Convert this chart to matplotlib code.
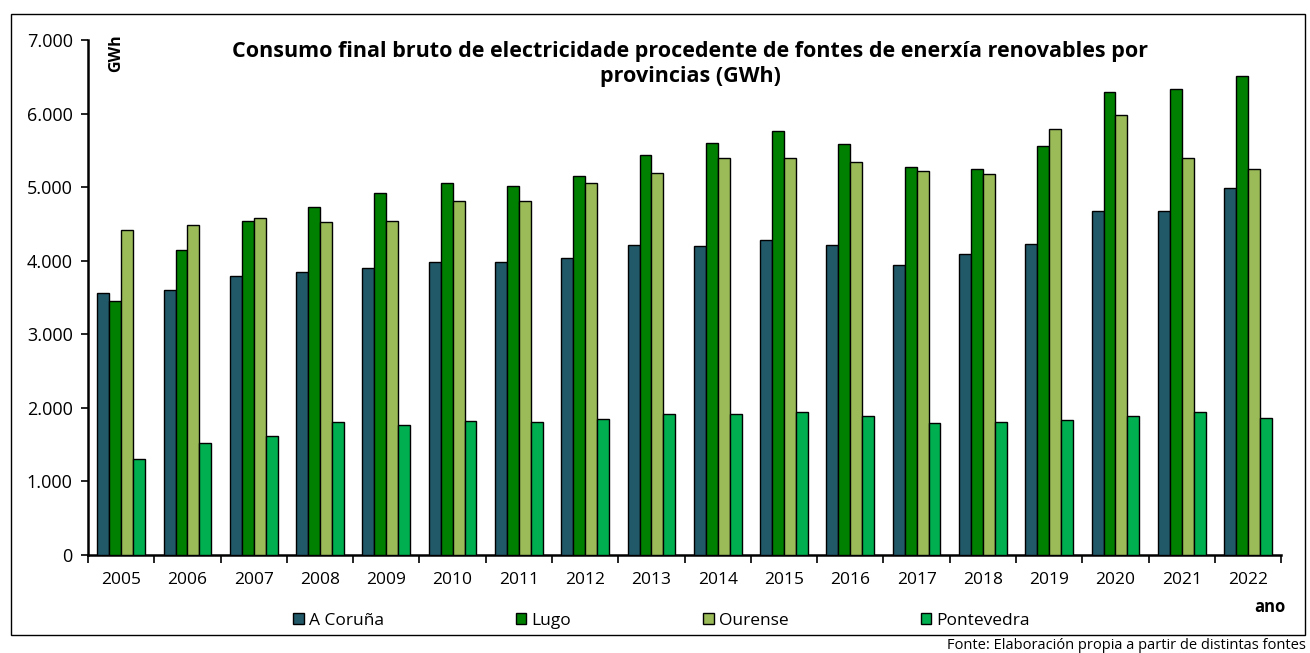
import matplotlib.pyplot as plt
import numpy as np
from matplotlib.patches import Rectangle

plt.rcParams['font.family'] = ['Open Sans', 'DejaVu Sans']

years = [str(y) for y in range(2005, 2023)]
provinces = ["A Coruña", "Lugo", "Ourense", "Pontevedra"]
coruna = [3560, 3600, 3790, 3850, 3900, 3980, 3980, 4040, 4210, 4200, 4280, 4210, 3940, 4090, 4230, 4680, 4680, 4990]
lugo = [3450, 4150, 4540, 4730, 4920, 5060, 5020, 5150, 5440, 5600, 5760, 5590, 5270, 5250, 5560, 6290, 6330, 6510]
ourense = [4420, 4480, 4580, 4530, 4540, 4810, 4810, 5060, 5190, 5400, 5400, 5340, 5220, 5180, 5790, 5980, 5400, 5250]
pontevedra = [1300, 1520, 1620, 1810, 1770, 1820, 1810, 1850, 1920, 1920, 1940, 1890, 1790, 1810, 1830, 1890, 1940, 1860]
colors = ["#215968", "#008000", "#9BBB59", "#00B050"]

fig = plt.figure(figsize=(13.1, 6.53), dpi=100)
ax = fig.add_axes([0.0672, 0.150, 0.9108, 0.7887])

x = np.arange(len(years))
width = 0.18
series = [coruna, lugo, ourense, pontevedra]
for k, vals in enumerate(series):
    ax.bar(x + (k - 1.5) * width, vals, width, color=colors[k], edgecolor='black',
           linewidth=1.0, label=provinces[k], zorder=3)

ax.set_xlim(-0.5, len(years) - 0.5)
ax.set_ylim(0, 7000)
ax.set_yticks(range(0, 7001, 1000))
ax.set_yticklabels(["0" if v == 0 else f"{v:,}".replace(",", ".") for v in range(0, 7001, 1000)], fontsize=13)
ax.set_xticks(x)
ax.set_xticklabels(years, fontsize=12.5)
ax.set_xticks(np.arange(-0.5, len(years)), minor=True)
ax.tick_params(axis='x', which='major', length=0, pad=12)
ax.tick_params(axis='x', which='minor', length=6, width=1.2, direction='out')
ax.tick_params(axis='y', length=5, width=1.2, direction='out', pad=6)
for s in ['top', 'right']:
    ax.spines[s].set_visible(False)
for s in ['left', 'bottom']:
    ax.spines[s].set_linewidth(1.8)

fig.text(0.527, 0.937, "Consumo final bruto de electricidade procedente de fontes de enerxía renovables por\nprovincias (GWh)",
         ha='center', va='top', fontsize=15.5, fontweight='bold', linespacing=1.25)
fig.text(0.089, 0.918, "GWh", rotation=90, ha='center', va='center', fontsize=11.5, fontweight='bold')
fig.text(0.969, 0.07, "ano", ha='center', va='center', fontsize=12, fontweight='bold')
fig.text(0.997, 0.011, "Fonte: Elaboración propia a partir de distintas fontes", ha='right', va='center', fontsize=10.5)

fig.legend(loc='center', bbox_to_anchor=(0.505, 0.049), ncol=4, frameon=False, fontsize=12.5,
           handlelength=0.6, handleheight=0.6, handletextpad=0.3, columnspacing=7.6)

fig.patches.append(Rectangle((0.0084, 0.0276), 0.988, 0.951, transform=fig.transFigure,
                             fill=False, edgecolor='black', linewidth=1.0))

fig.savefig("out.png", dpi=100)
